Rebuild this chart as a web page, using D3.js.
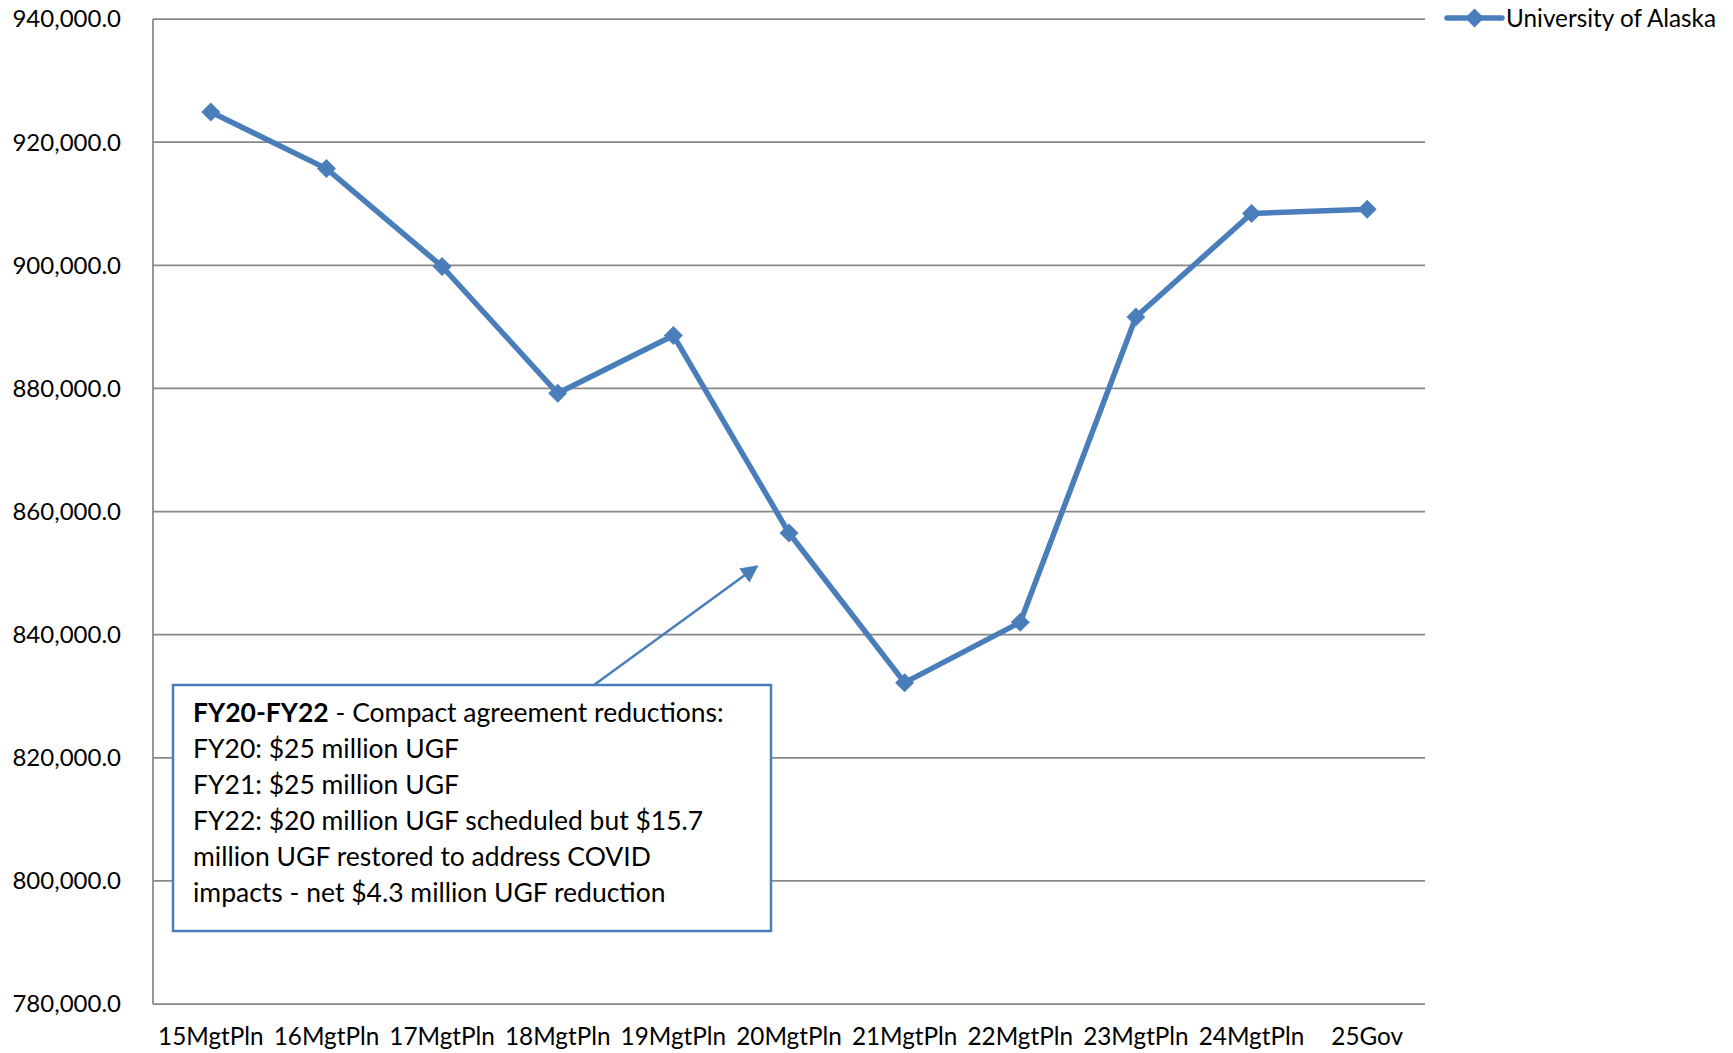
<!DOCTYPE html>
<html>
<head>
<meta charset="utf-8">
<script src="https://cdn.jsdelivr.net/npm/d3@7"></script>
<style>
  body { margin: 0; background: #fff; }
  svg { display: block; font-family: Lato, "Open Sans", sans-serif; }
</style>
</head>
<body>
<svg></svg>
<script>
var width = 1733,
    height = 1053;

// data
var categories = ["15MgtPln", "16MgtPln", "17MgtPln", "18MgtPln", "19MgtPln", "20MgtPln",
                  "21MgtPln", "22MgtPln", "23MgtPln", "24MgtPln", "25Gov"];
var values = [924900, 915700, 899800, 879200, 888600, 856500,
              832200, 842000, 891600, 908400, 909100];
var yTicks = [780000, 800000, 820000, 840000, 860000, 880000, 900000, 920000, 940000];
var seriesName = "University of Alaska";
var noteTitle = "FY20-FY22";
var noteLines = [" - Compact agreement reductions:",
                 "FY20: $25 million UGF",
                 "FY21: $25 million UGF",
                 "FY22: $20 million UGF scheduled but $15.7",
                 "million UGF restored to address COVID",
                 "impacts - net $4.3 million UGF reduction"];
// the arrow points at this spot (category, value)
var noteTarget = {cat: "20MgtPln", value: 851100};

var blue = "#4a7ebb",
    grid = "#888888";

var plotL = 153, plotR = 1425, plotT = 19, plotB = 1004;

var svg = d3.select("svg")
    .attr("width", width)
    .attr("height", height);

var x = d3.scaleBand().domain(categories).range([plotL, plotR]);
var y = d3.scaleLinear().domain([780000, 940000]).range([plotB, plotT]);
var fmt = d3.format(",.1f");

function cx(c) { return x(c) + x.bandwidth() / 2; }

///////////////////////
//
// Grid and axes
//
///////////////////////

svg.selectAll(".grid")
    .data(yTicks)
    .enter()
    .append("line")
    .attr("x1", plotL)
    .attr("x2", plotR)
    .attr("y1", function(d) { return y(d); })
    .attr("y2", function(d) { return y(d); })
    .attr("stroke", grid)
    .attr("stroke-width", 1.75);

svg.append("line")
    .attr("x1", plotL).attr("x2", plotL)
    .attr("y1", plotT).attr("y2", plotB)
    .attr("stroke", grid)
    .attr("stroke-width", 1.75);

svg.selectAll(".ytick")
    .data(yTicks)
    .enter()
    .append("text")
    .attr("x", 121)
    .attr("y", function(d) { return y(d); })
    .attr("dy", "0.35em")
    .attr("text-anchor", "end")
    .attr("font-size", 24)
    .attr("fill", "#000")
    .text(function(d) { return fmt(d); });

svg.selectAll(".xtick")
    .data(categories)
    .enter()
    .append("text")
    .attr("x", function(d) { return cx(d); })
    .attr("y", 1038)
    .attr("dy", "0.3em")
    .attr("text-anchor", "middle")
    .attr("font-size", 24.3)
    .attr("fill", "#000")
    .text(function(d) { return d; });

////////////////////////
//
// Series
//
////////////////////////

var line = d3.line()
    .x(function(d, i) { return cx(categories[i]); })
    .y(function(d) { return y(d); });

svg.append("path")
    .attr("d", line(values))
    .attr("fill", "none")
    .attr("stroke", blue)
    .attr("stroke-width", 5.5)
    .attr("stroke-linejoin", "round");

var diamond = d3.symbol().type(d3.symbolSquare).size(180);

svg.selectAll(".marker")
    .data(values)
    .enter()
    .append("path")
    .attr("d", diamond)
    .attr("transform", function(d, i) {
        return "translate(" + cx(categories[i]) + "," + y(d) + ") rotate(45)";
    })
    .attr("fill", blue);

////////////////////////
//
// Legend
//
////////////////////////

var legend = svg.append("g").attr("transform", "translate(1447,18)");
legend.append("line")
    .attr("x1", 0).attr("x2", 55)
    .attr("y1", 0).attr("y2", 0)
    .attr("stroke", blue)
    .attr("stroke-width", 5.5)
    .attr("stroke-linecap", "round");
legend.append("path")
    .attr("d", diamond)
    .attr("transform", "translate(27.5,0) rotate(45)")
    .attr("fill", blue);
legend.append("text")
    .attr("x", 59)
    .attr("dy", "0.35em")
    .attr("font-size", 24.3)
    .attr("fill", "#000")
    .text(seriesName);

////////////////////////
//
// Note box and arrow
//
////////////////////////

svg.append("defs").append("marker")
    .attr("id", "arrow")
    .attr("viewBox", "0 0 10 10")
    .attr("refX", 9).attr("refY", 5)
    .attr("markerWidth", 7).attr("markerHeight", 7)
    .attr("orient", "auto")
    .append("path")
    .attr("d", "M0,0 L10,5 L0,10 Z")
    .attr("fill", blue);

var boxX = 173, boxY = 685, boxW = 598, boxH = 246;

svg.append("line")
    .attr("x1", 594).attr("y1", boxY)
    .attr("x2", cx(noteTarget.cat) - 32)
    .attr("y2", y(noteTarget.value))
    .attr("stroke", blue)
    .attr("stroke-width", 2.5)
    .attr("marker-end", "url(#arrow)");

svg.append("rect")
    .attr("x", boxX).attr("y", boxY)
    .attr("width", boxW).attr("height", boxH)
    .attr("fill", "#fff")
    .attr("stroke", blue)
    .attr("stroke-width", 2.5);

var note = svg.append("text")
    .attr("x", boxX + 20)
    .attr("y", boxY + 37)
    .attr("font-size", 26.5)
    .attr("fill", "#000");

note.append("tspan")
    .attr("font-weight", "bold")
    .text(noteTitle);
note.append("tspan").text(noteLines[0]);

note.selectAll(".more")
    .data(noteLines.slice(1))
    .enter()
    .append("tspan")
    .attr("x", boxX + 20)
    .attr("dy", 36)
    .text(function(d) { return d; });
</script>
</body>
</html>
